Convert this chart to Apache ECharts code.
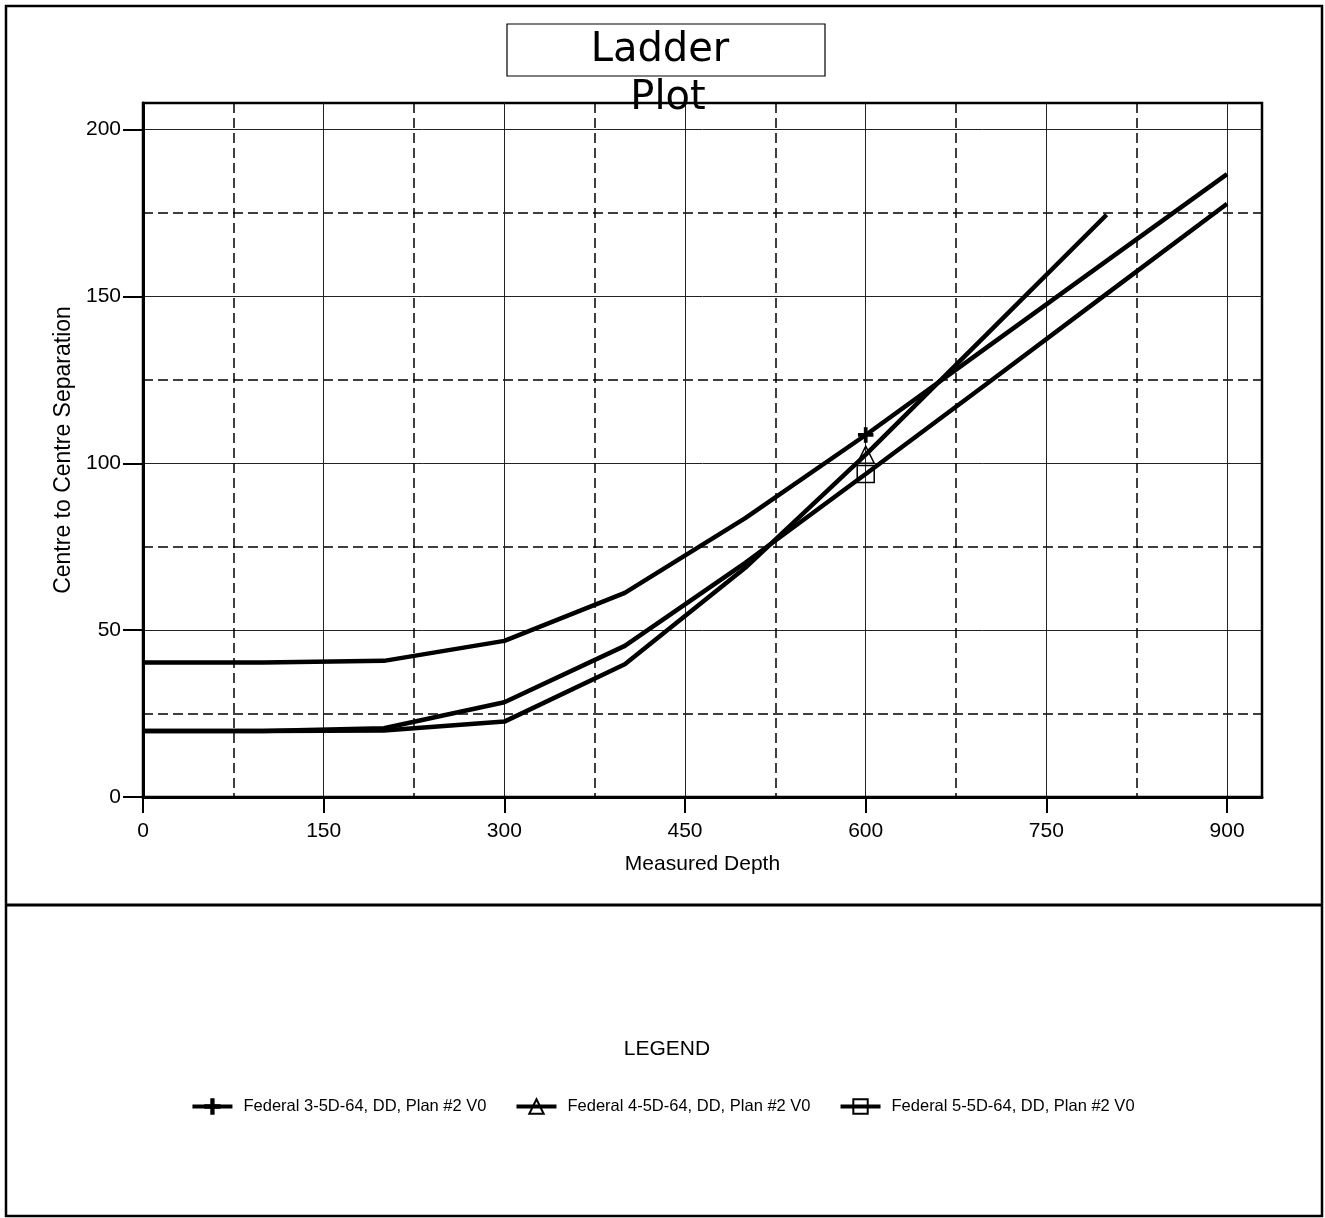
<!DOCTYPE html>
<html>
<head>
<meta charset="utf-8">
<script src="https://cdn.jsdelivr.net/npm/echarts@6/dist/echarts.min.js"></script>
<style>
html,body{margin:0;padding:0;background:#fff;}
#c{width:1325px;height:1218px;}
</style>
</head>
<body>
<div id="c"></div>
<script>
// ---- data ----
const depths = [0, 100, 200, 300, 400, 500, 600, 700, 800, 900];
const fed3 = [40.3, 40.3, 40.8, 46.8, 61.2, 83.6, 108.5, 134.6, 160.7, 186.7];
const fed4 = [19.8, 19.8, 19.9, 22.6, 39.8, 68.7, 102.6, 138.5, 174.5];
const fed5 = [19.8, 19.8, 20.6, 28.4, 45.3, 70.2, 96.8, 123.7, 150.8, 177.8];
const seriesNames = ['Federal 3-5D-64, DD, Plan #2 V0', 'Federal 4-5D-64, DD, Plan #2 V0', 'Federal 5-5D-64, DD, Plan #2 V0'];
const markerDepth = 600;
const xTicks = [0, 150, 300, 450, 600, 750, 900];
const yTicks = [0, 50, 100, 150, 200];

const FONT = 'Liberation Sans, Arial, Helvetica, sans-serif';
const plusPath = 'path://M4.2,0 L5.8,0 L5.8,4.2 L10,4.2 L10,5.8 L5.8,5.8 L5.8,10 L4.2,10 L4.2,5.8 L0,5.8 L0,4.2 L4.2,4.2 Z';

function build(vals) {
  return vals.map((v, i) => {
    const d = depths[i];
    return d === markerDepth ? { value: [d, v] } : { value: [d, v], symbol: 'none' };
  });
}

const chart = echarts.init(document.getElementById('c'), null, { renderer: 'canvas' });

const axisCommon = {
  type: 'value',
  axisLine: { show: true, lineStyle: { color: '#000', width: 3 } },
  splitLine: { show: true, lineStyle: { color: '#222', width: 1, type: 'solid' } }
};
// minor dashed lines: alternate transparent / black so that only the in-between lines show
const minorColors = ['rgba(0,0,0,0)', '#000'];

function lineSeries(name, vals, symbol, size, fill) {
  return {
    name: name,
    type: 'line',
    xAxisIndex: 0,
    yAxisIndex: 0,
    data: build(vals),
    symbol: symbol,
    symbolSize: size,
    showAllSymbol: true,
    lineStyle: { color: '#000', width: 4.5 },
    itemStyle: { color: fill, borderColor: '#000', borderWidth: 1.5 },
    z: 5,
    animation: false
  };
}

const option = {
  backgroundColor: '#fff',
  animation: false,
  grid: {
    left: 143, right: 63, top: 103, bottom: 421,
    show: true, borderColor: '#000', borderWidth: 2.5, backgroundColor: 'transparent'
  },
  xAxis: [
    Object.assign({}, axisCommon, {
      min: 0, max: 929, interval: 150, position: 'bottom',
      axisTick: { show: true, inside: false, length: 16, customValues: xTicks, lineStyle: { color: '#000', width: 2 } },
      axisLabel: {
        color: '#000', fontSize: 21, fontFamily: FONT, margin: 24, customValues: xTicks,
        formatter: v => (xTicks.indexOf(v) >= 0 ? String(v) : '')
      },
      name: 'Measured Depth', nameLocation: 'middle', nameGap: 57,
      nameTextStyle: { color: '#000', fontSize: 21, fontFamily: FONT }
    }),
    {
      type: 'value', min: 0, max: 929, interval: 75, position: 'bottom',
      axisLine: { show: false }, axisTick: { show: false }, axisLabel: { show: false },
      splitLine: { show: true, lineStyle: { color: minorColors, width: 1.5, type: [10, 5] } }
    }
  ],
  yAxis: [
    Object.assign({}, axisCommon, {
      min: 0, max: 208, interval: 50, position: 'left',
      axisTick: { show: true, inside: false, length: 20, customValues: yTicks, lineStyle: { color: '#000', width: 2 } },
      axisLabel: {
        color: '#000', fontSize: 21, fontFamily: FONT, margin: 22, customValues: yTicks,
        formatter: v => (yTicks.indexOf(v) >= 0 ? String(v) : '')
      },
      name: 'Centre to Centre Separation', nameLocation: 'middle', nameGap: 64, nameRotate: 90,
      nameTextStyle: { color: '#000', fontSize: 23, fontFamily: FONT }
    }),
    {
      type: 'value', min: 0, max: 208, interval: 25, position: 'left',
      axisLine: { show: false }, axisTick: { show: false }, axisLabel: { show: false },
      splitLine: { show: true, lineStyle: { color: minorColors, width: 1.5, type: [10, 5] } }
    }
  ],
  legend: {
    data: seriesNames,
    top: 1093,
    left: 'center',
    itemWidth: 40,
    itemHeight: 18,
    itemGap: 28,
    lineStyle: { width: 4 },
    textStyle: { color: '#000', fontSize: 16.5, fontFamily: FONT, padding: [0, 0, 0, 6] }
  },
  graphic: [
    { type: 'rect', z: 0, silent: true, shape: { x: 6, y: 6, width: 1316, height: 1210 }, style: { fill: 'none', stroke: '#000', lineWidth: 2.5 } },
    { type: 'line', z: 0, silent: true, shape: { x1: 6, y1: 905, x2: 1322, y2: 905 }, style: { stroke: '#000', lineWidth: 3 } },
    { type: 'rect', z: 10, silent: true, shape: { x: 507, y: 24, width: 318, height: 52 }, style: { fill: '#fff', stroke: '#000', lineWidth: 1.2 } },
    { type: 'text', z: 11, silent: true, x: 660, y: 51, style: { text: 'Ladder', font: '40px DejaVu Sans, Liberation Sans, sans-serif', fill: '#000', textAlign: 'center', textVerticalAlign: 'middle' } },
    { type: 'text', z: 11, silent: true, x: 668, y: 99, style: { text: 'Plot', font: '40px DejaVu Sans, Liberation Sans, sans-serif', fill: '#000', textAlign: 'center', textVerticalAlign: 'middle' } },
    { type: 'text', z: 11, silent: true, x: 667, y: 1049, style: { text: 'LEGEND', font: '21px ' + FONT, fill: '#000', textAlign: 'center', textVerticalAlign: 'middle' } }
  ],
  series: [
    lineSeries(seriesNames[0], fed3, plusPath, 14, '#000'),
    lineSeries(seriesNames[1], fed4, 'triangle', 17, 'rgba(255,255,255,0)'),
    lineSeries(seriesNames[2], fed5, 'rect', 17, 'rgba(255,255,255,0)')
  ]
};

chart.setOption(option);
</script>
</body>
</html>
